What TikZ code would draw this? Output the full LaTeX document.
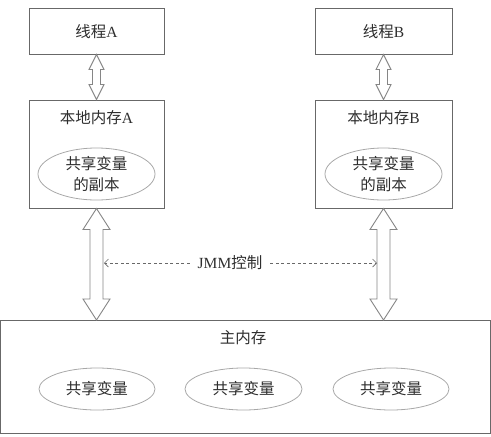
\documentclass[tikz,border=0pt]{standalone}
\usepackage{fontspec}
\setmainfont{Liberation Serif}
\newfontfamily\cjk{Noto Sans CJK SC}
\usetikzlibrary{calc,arrows.meta,shapes.geometric}
\definecolor{boxline}{HTML}{686868}
\definecolor{ellline}{HTML}{A8A8A8}
\definecolor{txt}{HTML}{2E2E2E}
\tikzset{
  box/.style={draw=boxline,line width=1pt,inner sep=0pt},
  ell/.style={draw=ellline,line width=0.8pt,ellipse,inner sep=0pt},
  lbl/.style={text=txt,font=\fontsize{15.5}{19}\selectfont\cjk,inner sep=0pt,align=center},
  darrowstyle/.style={draw=boxline!80,line width=0.9pt,fill=white,line join=miter},
  jmmline/.style={draw=boxline,line width=0.7pt,dash pattern=on 3pt off 2.5pt,-{Straight Barb[length=4pt,width=8pt]}}
}
\newcommand\dbarrowdraw[5]{%
  \draw[darrowstyle] let \p1=(#1), \p2=(#2) in
   (\x1,\y1) -- (\x1+#4,\y1-#5) -- (\x1+#3,\y1-#5) -- (\x1+#3,\y2+#5) -- (\x1+#4,\y2+#5)
   -- (\x1,\y2) -- (\x1-#4,\y2+#5) -- (\x1-#3,\y2+#5) -- (\x1-#3,\y1-#5) -- (\x1-#4,\y1-#5) -- cycle;}
\begin{document}
\begin{tikzpicture}[x=1pt,y=-1pt]
\useasboundingbox (0,0) rectangle (491,437);
% threads
\node[box,minimum width=135pt,minimum height=46pt] (ta) at (96.5,31) {};
\node[lbl] (tat) at (96.5,32) {线程\rmfamily A};
\node[box,minimum width=137pt,minimum height=46pt] (tb) at (383.5,31) {};
\node[lbl] (tbt) at (383.5,32) {线程\rmfamily B};
% local memories
\node[box,minimum width=135pt,minimum height=108pt] (la) at (96.5,154) {};
\node[lbl] (lat) at (96.5,118) {本地内存\rmfamily A};
\node[ell,minimum width=117pt,minimum height=52pt] (ea) at (96.5,174) {};
\node[lbl] (eat) at (96.5,174) {共享变量\\[2pt]的副本};
\node[box,minimum width=137pt,minimum height=108pt] (lb) at (383.5,154) {};
\node[lbl] (lbt) at (383.5,118) {本地内存\rmfamily B};
\node[ell,minimum width=117pt,minimum height=52pt] (eb) at (383.5,174) {};
\node[lbl] (ebt) at (383.5,174) {共享变量\\[2pt]的副本};
% main memory
\node[box,minimum width=490pt,minimum height=113pt] (mm) at (245.5,376.5) {};
\node[lbl] (mmt) at (243,338) {主内存};
\node[ell,minimum width=116pt,minimum height=42pt] (v1) at (97,389) {};
\node[lbl] at (v1) {共享变量};
\node[ell,minimum width=117pt,minimum height=42pt] (v2) at (243.5,389) {};
\node[lbl] at (v2) {共享变量};
\node[ell,minimum width=116pt,minimum height=42pt] (v3) at (391,389) {};
\node[lbl] at (v3) {共享变量};
% small double arrows
\dbarrowdraw{ta.south}{la.north}{4pt}{7.5pt}{15pt}
\dbarrowdraw{tb.south}{lb.north}{4pt}{7.5pt}{15pt}
% big double arrows
\coordinate (ma) at (97,320);
\coordinate (mb) at (383.5,320);
\dbarrowdraw{la.south}{ma}{6.5pt}{13.5pt}{21pt}
\dbarrowdraw{lb.south}{mb}{6.5pt}{13.5pt}{21pt}
% JMM control
\node[lbl,inner xsep=8pt] (jmm) at (230,263) {\rmfamily JMM\cjk 控制};
\coordinate (jl) at (104,263);
\coordinate (jr) at (377,263);
\draw[jmmline] (jmm.west) -- (jl);
\draw[jmmline] (jmm.east) -- (jr);
\end{tikzpicture}
\end{document}
